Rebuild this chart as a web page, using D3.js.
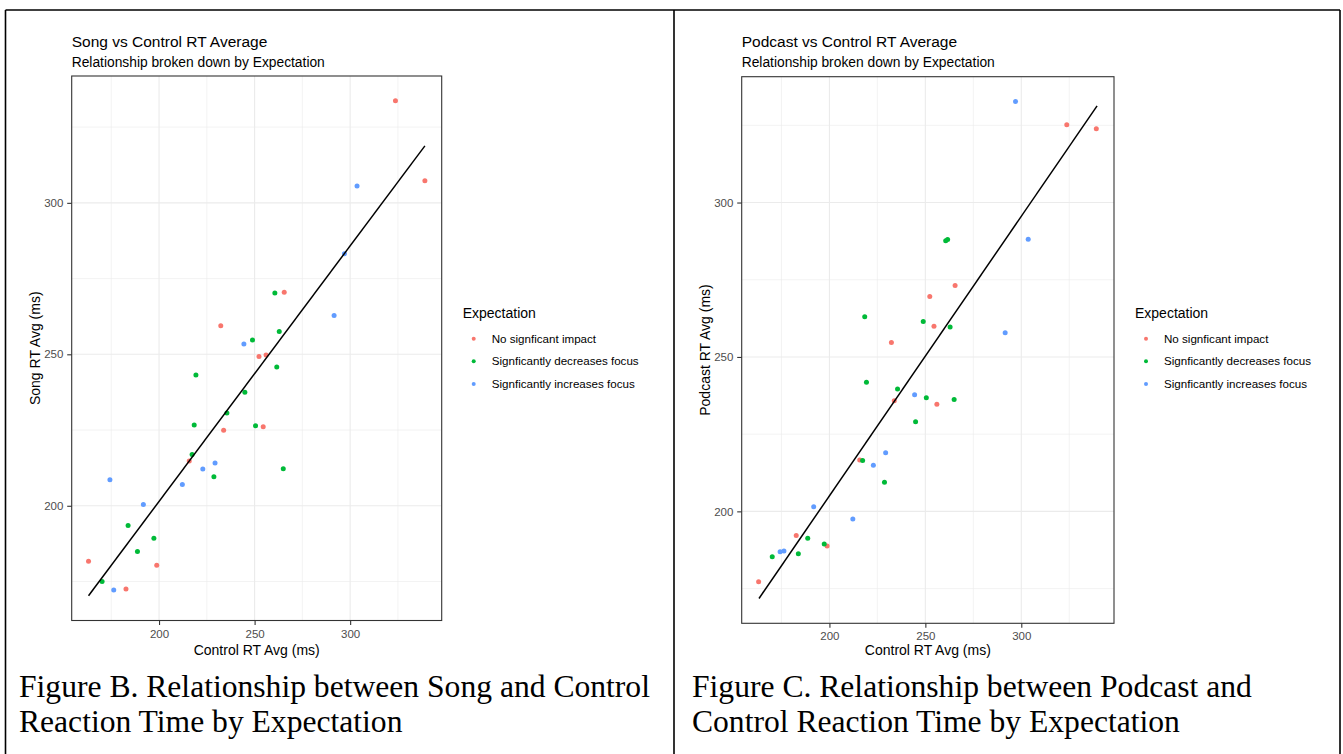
<!DOCTYPE html>
<html>
<head>
<meta charset="utf-8">
<script src="https://cdn.jsdelivr.net/npm/d3@7"></script>
<style>
	body { margin: 0; background: #fff; }
	svg { display: block; }
	.tick text { font-family: "Liberation Sans", Arial, sans-serif; }
</style>
</head>
<body>
<div id="chart"></div>
<script>
// groups and their ggplot colours
var groups = ["No signficant impact", "Signficantly decreases focus", "Signficantly increases focus"];
var groupColors = ["#F8766D", "#00BA38", "#619CFF"];

// control RT average (ms), shared by both figures
var controlNone = [163.1, 182.7, 198.8, 215.8, 232.3, 233.8, 252.3, 254.5, 256.0, 265.5, 323.7, 339.1];
var controlDecrease = [170.2, 183.8, 188.7, 197.3, 217.3, 218.4, 219.3, 228.7, 235.5, 244.9, 248.9, 250.5, 260.6, 261.6, 262.9, 265.0];
var controlIncrease = [174.3, 176.3, 191.8, 212.2, 222.9, 229.3, 244.4, 291.6, 297.0, 303.6];

// song RT average (ms)
var songNone = [181.7, 172.5, 180.4, 214.8, 259.4, 224.9, 249.3, 226.1, 249.8, 270.5, 333.7, 307.3];
var songDecrease = [175.0, 193.5, 184.9, 189.3, 216.9, 226.7, 243.2, 209.6, 230.6, 237.5, 254.7, 226.4, 270.2, 245.8, 257.5, 212.2];
var songIncrease = [208.6, 172.2, 200.4, 207.0, 212.1, 214.1, 253.4, 262.8, 283.2, 305.6];

// podcast RT average (ms)
var podcastNone = [177.2, 192.2, 188.8, 216.6, 254.7, 235.8, 269.6, 259.9, 234.7, 273.1, 325.2, 323.9];
var podcastDecrease = [185.3, 186.3, 191.3, 189.4, 216.5, 263.0, 241.8, 209.4, 239.6, 229.0, 261.5, 236.8, 287.6, 288.0, 259.7, 236.2];
var podcastIncrease = [186.9, 187.2, 201.5, 197.5, 214.9, 219.0, 237.8, 257.8, 332.7, 288.1];

// fitted line ends
var songFitX = [163.1, 339.1];
var songFitY = [170.3, 318.8];
var podcastFitX = [163.3, 339.5];
var podcastFitY = [171.8, 331.3];

var xTicks = [200, 250, 300];
var xMinor = [175, 225, 275, 325];
var yTicks = [200, 250, 300];
var yMinor = [175, 225, 275, 325];

var controls = [controlNone, controlDecrease, controlIncrease];

var panels = [
	{
		title: "Song vs Control RT Average",
		yLabel: "Song RT Avg (ms)",
		series: [songNone, songDecrease, songIncrease],
		fitX: songFitX, fitY: songFitY,
		caption: ["Figure B. Relationship between Song and Control", "Reaction Time by Expectation"],
		left: 71.7, right: 441.7, top: 76, bottom: 620.5,
		yTitleX: 39.5, captionX: 19
	},
	{
		title: "Podcast vs Control RT Average",
		yLabel: "Podcast RT Avg (ms)",
		series: [podcastNone, podcastDecrease, podcastIncrease],
		fitX: podcastFitX, fitY: podcastFitY,
		caption: ["Figure C. Relationship between Podcast and", "Control Reaction Time by Expectation"],
		left: 741.7, right: 1114, top: 76.7, bottom: 623.3,
		yTitleX: 709.5, captionX: 692
	}
];

var sans = "'Liberation Sans', Arial, sans-serif";
var serif = "'Liberation Serif', 'Times New Roman', serif";

var svg = d3.select("#chart")
	.append("svg")
	.attr("width", 1343)
	.attr("height", 754)
	;

// table borders
svg.append("g")
	.attr("stroke", "#000")
	.attr("stroke-width", 1.6)
	.selectAll("line")
	.data([[5.5, 10, 1340, 10], [5.5, 10, 5.5, 754], [674, 10, 674, 754], [1340, 10, 1340, 754]])
	.enter().append("line")
	.attr("x1", function(d) { return d[0]; })
	.attr("y1", function(d) { return d[1]; })
	.attr("x2", function(d) { return d[2]; })
	.attr("y2", function(d) { return d[3]; })
	;

function padded(ext) {
	var pad = (ext[1] - ext[0]) * 0.05;
	return [ext[0] - pad, ext[1] + pad];
}

panels.forEach(function(p) {
	var pts = [];
	p.series.forEach(function(vals, gi) {
		vals.forEach(function(v, i) {
			pts.push({ x: controls[gi][i], y: v, g: gi });
		});
	});

	var xs = pts.map(function(d) { return d.x; }).concat(p.fitX);
	var ys = pts.map(function(d) { return d.y; }).concat(p.fitY);

	var x = d3.scaleLinear().domain(padded(d3.extent(xs))).range([p.left, p.right]);
	var y = d3.scaleLinear().domain(padded(d3.extent(ys))).range([p.bottom, p.top]);

	var g = svg.append("g");

	// titles
	g.append("text")
		.attr("x", p.left)
		.attr("y", 46.5)
		.attr("font-family", sans)
		.attr("font-size", 15.5)
		.attr("fill", "#000")
		.text(p.title);
	g.append("text")
		.attr("x", p.left)
		.attr("y", 66.5)
		.attr("font-family", sans)
		.attr("font-size", 13.8)
		.attr("fill", "#000")
		.text("Relationship broken down by Expectation");

	// grid
	g.selectAll(".vminor")
		.data(xMinor)
		.enter().append("line")
		.attr("x1", function(d) { return x(d); })
		.attr("x2", function(d) { return x(d); })
		.attr("y1", p.top)
		.attr("y2", p.bottom)
		.attr("stroke", "#ebebeb")
		.attr("stroke-width", 0.6);
	g.selectAll(".hminor")
		.data(yMinor)
		.enter().append("line")
		.attr("y1", function(d) { return y(d); })
		.attr("y2", function(d) { return y(d); })
		.attr("x1", p.left)
		.attr("x2", p.right)
		.attr("stroke", "#ebebeb")
		.attr("stroke-width", 0.6);
	g.selectAll(".vmajor")
		.data(xTicks)
		.enter().append("line")
		.attr("x1", function(d) { return x(d); })
		.attr("x2", function(d) { return x(d); })
		.attr("y1", p.top)
		.attr("y2", p.bottom)
		.attr("stroke", "#ebebeb")
		.attr("stroke-width", 1.1);
	g.selectAll(".hmajor")
		.data(yTicks)
		.enter().append("line")
		.attr("y1", function(d) { return y(d); })
		.attr("y2", function(d) { return y(d); })
		.attr("x1", p.left)
		.attr("x2", p.right)
		.attr("stroke", "#ebebeb")
		.attr("stroke-width", 1.1);

	// points
	g.selectAll("circle")
		.data(pts)
		.enter().append("circle")
		.attr("cx", function(d) { return x(d.x); })
		.attr("cy", function(d) { return y(d.y); })
		.attr("r", 2.5)
		.attr("fill", function(d) { return groupColors[d.g]; });

	// fitted line
	var line = d3.line()
		.x(function(d) { return x(d[0]); })
		.y(function(d) { return y(d[1]); });
	g.append("path")
		.datum(p.fitX.map(function(v, i) { return [v, p.fitY[i]]; }))
		.attr("d", line)
		.attr("fill", "none")
		.attr("stroke", "#000")
		.attr("stroke-width", 1.5);

	// panel border
	g.append("rect")
		.attr("x", p.left)
		.attr("y", p.top)
		.attr("width", p.right - p.left)
		.attr("height", p.bottom - p.top)
		.attr("fill", "none")
		.attr("stroke", "#333")
		.attr("stroke-width", 1.1);

	// axes
	var xa = g.append("g")
		.attr("transform", "translate(0," + p.bottom + ")")
		.call(d3.axisBottom(x).tickValues(xTicks).tickSize(4.5).tickPadding(4.5));
	var ya = g.append("g")
		.attr("transform", "translate(" + p.left + ",0)")
		.call(d3.axisLeft(y).tickValues(yTicks).tickSize(4.5).tickPadding(3.8));
	[xa, ya].forEach(function(a) {
		a.select(".domain").remove();
		a.selectAll(".tick line").attr("stroke", "#333").attr("stroke-width", 1.1);
		a.selectAll(".tick text").attr("fill", "#4d4d4d").attr("font-size", 11.5);
	});

	g.append("text")
		.attr("x", (p.left + p.right) / 2)
		.attr("y", 655)
		.attr("text-anchor", "middle")
		.attr("font-family", sans)
		.attr("font-size", 14)
		.attr("fill", "#000")
		.text("Control RT Avg (ms)");
	g.append("text")
		.attr("transform", "translate(" + p.yTitleX + "," + ((p.top + p.bottom) / 2) + ") rotate(-90)")
		.attr("text-anchor", "middle")
		.attr("font-family", sans)
		.attr("font-size", 14)
		.attr("fill", "#000")
		.text(p.yLabel);

	// legend
	var lg = g.append("g").attr("transform", "translate(" + (p.right + 21) + ",318)");
	lg.append("text")
		.attr("font-family", sans)
		.attr("font-size", 14)
		.attr("fill", "#000")
		.text("Expectation");
	var items = lg.selectAll(".item")
		.data(groups)
		.enter().append("g")
		.attr("transform", function(d, i) { return "translate(0," + (20.7 + i * 22.6) + ")"; });
	items.append("circle")
		.attr("cx", 11)
		.attr("r", 2)
		.attr("fill", function(d, i) { return groupColors[i]; });
	items.append("text")
		.attr("x", 29)
		.attr("dy", "0.35em")
		.attr("font-family", sans)
		.attr("font-size", 11.6)
		.attr("fill", "#000")
		.text(function(d) { return d; });

	// caption
	g.selectAll(".caption")
		.data(p.caption)
		.enter().append("text")
		.attr("x", p.captionX)
		.attr("y", function(d, i) { return 697 + i * 34.5; })
		.attr("font-family", serif)
		.attr("font-size", 31.6)
		.attr("fill", "#000")
		.text(function(d) { return d; });
});
</script>
</body>
</html>
